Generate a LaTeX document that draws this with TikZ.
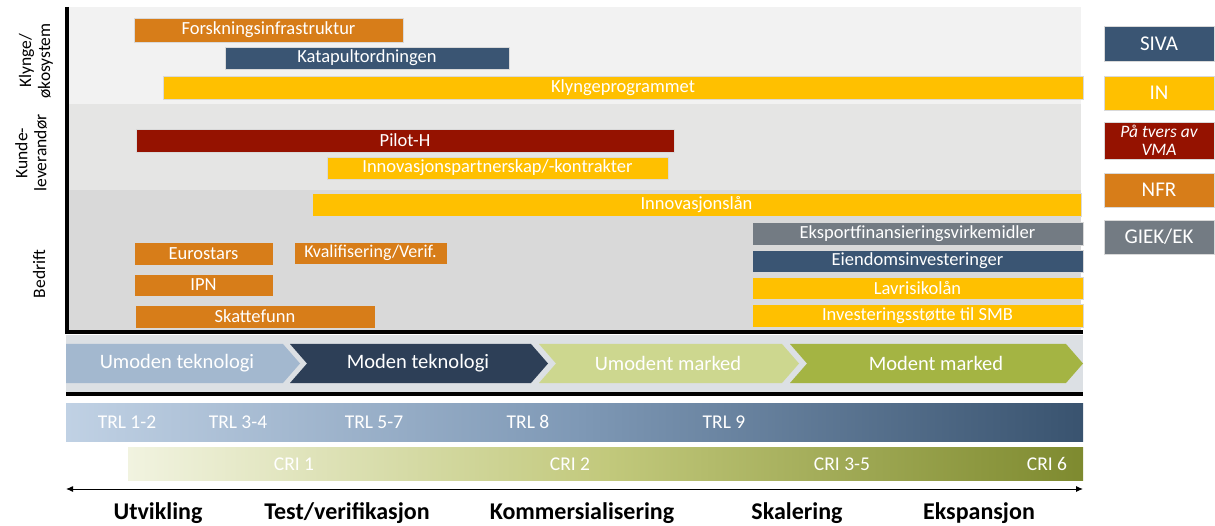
\documentclass[tikz,border=0pt]{standalone}
\usepackage{fontspec}
\setmainfont{Carlito}
\usepackage{tikz}
\usetikzlibrary{arrows.meta, positioning}
\definecolor{agencysiva}{HTML}{3A5573}
\definecolor{agencyin}{HTML}{FFC000}
\definecolor{agencyvma}{HTML}{951200}
\definecolor{agencynfr}{HTML}{D77D19}
\definecolor{agencygiek}{HTML}{737B83}
\definecolor{bandtop}{HTML}{F2F2F2}
\definecolor{bandmiddle}{HTML}{E5E5E4}
\definecolor{bandbottom}{HTML}{D9D9D9}
\definecolor{phasepanel}{HTML}{DCE0E4}
\definecolor{techimmature}{HTML}{A3B8CF}
\definecolor{techmature}{HTML}{2D3F57}
\definecolor{marketimmature}{HTML}{CDD78F}
\definecolor{marketmature}{HTML}{A4B443}
\definecolor{trllight}{HTML}{C0D1E4}
\definecolor{trlmid}{HTML}{7F99B6}
\definecolor{trldark}{HTML}{39536F}
\definecolor{crilight}{HTML}{F1F3E0}
\definecolor{crimid}{HTML}{C2C97C}
\definecolor{cridark}{HTML}{7E8A2F}

\begin{document}
\begin{tikzpicture}[
        x=1pt, y=-1pt,
        band/.style={
            draw=none,
            anchor=north west,
            inner sep=0pt,
            outer sep=0pt,
            minimum width=1013pt
        },
        bar/.style={
            draw=white!85!black,
            line width=0.5pt,
            anchor=north west,
            inner sep=0pt,
            outer sep=0pt,
            minimum height=23pt,
            text=white,
            font=\fontsize{18.5}{18.5}\selectfont
        },
        legendbox/.style={
            draw=white!85!black,
            line width=0.5pt,
            anchor=north west,
            inner sep=0pt,
            outer sep=0pt,
            minimum width=110pt,
            minimum height=35pt,
            text=white,
            align=center,
            font=\fontsize{21}{21}\selectfont
        },
        rowlabel/.style={
            rotate=90,
            align=center,
            font=\fontsize{17.5}{19}\selectfont
        },
        phaselabel/.style={
            text=white,
            font=\fontsize{20.5}{20.5}\selectfont
        },
        scalelabel/.style={
            text=white,
            font=\fontsize{19.5}{19.5}\selectfont
        },
        stagelabel/.style={
            font=\bfseries\fontsize{24}{24}\selectfont
        },
        blackrule/.style={
            line width=3.8pt,
            black
        }
    ]
        \useasboundingbox (0,0) rectangle (1215,526);

        % ---------------------------------------------------------------------
        % Background bands and row labels
        % ---------------------------------------------------------------------

        \node[band, fill=bandtop, minimum height=97pt] (clusterband) at (68,7) {};
        \node[band, fill=bandmiddle, minimum height=86pt] (customerband) at (68,104) {};
        \node[band, fill=bandbottom, minimum height=140pt] (companyband) at (68,190) {};

        \node[rowlabel] (clusterlbl) at (36,61) {Klynge/\\økosystem};
        \node[rowlabel] (customerlbl) at (31,153) {Kunde-\\leverandør};
        \node[rowlabel] (companylbl) at (39,274) {Bedrift};

        % ---------------------------------------------------------------------
        % Instruments
        % ---------------------------------------------------------------------

        \node[bar, fill=agencynfr, minimum width=269pt, minimum height=24pt] (forskning) at (134,18) {Forskningsinfrastruktur};
        \node[bar, fill=agencysiva, minimum width=284pt, minimum height=22pt] (katapult) at (225,47) {Katapultordningen};
        \node[bar, fill=agencyin, minimum width=920pt] (klynge) at (163,76) {Klyngeprogrammet};

        \node[bar, fill=agencyvma, minimum width=538pt] (piloth) at (136,129) {Pilot-H};
        \node[bar, fill=agencyin, minimum width=341pt, minimum height=22pt] (partnerskap) at (327,157) {Innovasjonspartnerskap/-kontrakter};

        \node[bar, fill=agencyin, minimum width=769pt] (innovlan) at (312,193) {Innovasjonslån};
        \node[bar, fill=agencynfr, minimum width=139pt] (eurostars) at (134,242) {Eurostars};
        \node[bar, fill=agencynfr, minimum width=153pt, minimum height=22pt,
            font=\fontsize{18}{18}\selectfont] (kvalif) at (294,242) {Kvalifisering/Verif.};
        \node[bar, fill=agencynfr, minimum width=139pt, minimum height=22pt] (ipn) at (134,274) {IPN};
        \node[bar, fill=agencynfr, minimum width=240pt] (skattefunn) at (135,305) {Skattefunn};

        \node[bar, fill=agencygiek, minimum width=331pt] (eksport) at (752,222) {Eksportfinansieringsvirkemidler};
        \node[bar, fill=agencysiva, minimum width=331pt, minimum height=22pt] (eiendom) at (752,250) {Eiendomsinvesteringer};
        \node[bar, fill=agencyin, minimum width=331pt, minimum height=22pt] (lavrisiko) at (752,277) {Lavrisikolån};
        \node[bar, fill=agencyin, minimum width=331pt] (smb) at (752,304) {Investeringsstøtte til SMB};

        % Axis lines of the upper chart.
        \draw[blackrule] (67,7) -- (67,332) -- (1083,332);

        % ---------------------------------------------------------------------
        % Legend
        % ---------------------------------------------------------------------

        \node[legendbox, fill=agencysiva] (legsiva) at (1104,26) {SIVA};
        \node[legendbox, fill=agencyin, minimum height=34pt] (legin) at (1104,76) {IN};
        \node[legendbox, fill=agencyvma, minimum height=37pt,
            font=\itshape\fontsize{17.5}{18}\selectfont] (legvma) at (1104,122) {På tvers av\\VMA};
        \node[legendbox, fill=agencynfr, minimum height=34pt] (legnfr) at (1104,173) {NFR};
        \node[legendbox, fill=agencygiek, minimum height=34pt] (leggiek) at (1104,220) {GIEK/EK};

        % ---------------------------------------------------------------------
        % Maturity chevrons
        % ---------------------------------------------------------------------

        \node[band, fill=phasepanel, minimum width=1017pt, minimum height=58pt] (phasepanelbox) at (66,335) {};

        \fill[techimmature] (66,344) -- (283,344) -- (300,363.5) -- (283,383) -- (66,383) -- cycle;
        \fill[techmature] (290,344) -- (531,344) -- (548,363.5) -- (531,383) -- (290,383) -- (307,363.5) -- cycle;
        \fill[marketimmature] (539,344) -- (782,344) -- (799,363.5) -- (782,383) -- (539,383) -- (556,363.5) -- cycle;
        \fill[marketmature] (790,344) -- (1066,344) -- (1083,363.5) -- (1066,383) -- (790,383) -- (807,363.5) -- cycle;

        \node[phaselabel] (umodentek) at (177,363.5) {Umoden teknologi};
        \node[phaselabel] (modentek) at (418,363.5) {Moden teknologi};
        \node[phaselabel] (umodentmarked) at (668,363.5) {Umodent marked};
        \node[phaselabel] (modentmarked) at (936,363.5) {Modent marked};

        \draw[blackrule] (66,394) -- (1083,394);

        % ---------------------------------------------------------------------
        % TRL and CRI scales
        % ---------------------------------------------------------------------

        \node[band, minimum width=1017pt, minimum height=38pt,
            left color=trllight, right color=trldark, middle color=trlmid] (trlbar) at (66,403) {};
        \node[scalelabel] (trlone) at (127,422) {TRL 1-2};
        \node[scalelabel] (trltwo) at (238,422) {TRL 3-4};
        \node[scalelabel] (trlthree) at (374,422) {TRL 5-7};
        \node[scalelabel] (trlfour) at (528,422) {TRL 8};
        \node[scalelabel] (trlfive) at (724,422) {TRL 9};

        \node[band, minimum width=955pt, minimum height=33pt,
            left color=crilight, right color=cridark, middle color=crimid] (cribar) at (128,447) {};
        \node[scalelabel] (crione) at (294,464) {CRI 1};
        \node[scalelabel] (critwo) at (570,464) {CRI 2};
        \node[scalelabel] (crithree) at (842,464) {CRI 3-5};
        \node[scalelabel] (crifour) at (1047,464) {CRI 6};

        % ---------------------------------------------------------------------
        % Stages along the axis
        % ---------------------------------------------------------------------

        \coordinate (axisleft) at (66,489);
        \coordinate (axisright) at (1083,489);
        \draw[{Latex[length=7pt, width=6pt]}-{Latex[length=7pt, width=6pt]}, line width=1pt]
            (axisleft) -- (axisright);

        \node[stagelabel] (utvikling) at (158,513) {Utvikling};
        \node[stagelabel] (testing) at (347,513) {Test/verifikasjon};
        \node[stagelabel] (kommersialisering) at (582,513) {Kommersialisering};
        \node[stagelabel] (skalering) at (797,513) {Skalering};
        \node[stagelabel] (ekspansjon) at (979,513) {Ekspansjon};

    \end{tikzpicture}
\end{document}
